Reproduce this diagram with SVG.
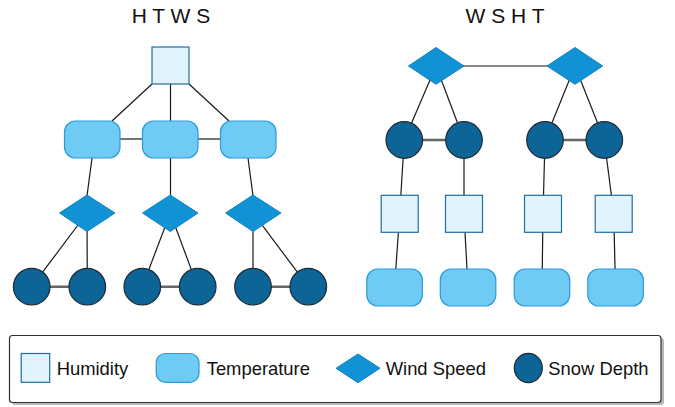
<svg xmlns="http://www.w3.org/2000/svg" width="675" height="407" viewBox="0 0 675 407">
  <style>
    .title { font-family: "Liberation Sans", Arial, sans-serif; font-size: 21px; fill: #111; text-anchor: middle; }
    .lbl { font-family: "Liberation Sans", Arial, sans-serif; font-size: 18.4px; fill: #111; }
    .hum { fill: #e1f3fc; stroke: #1f6f9f; stroke-width: 1.2; }
    .tmp { fill: #70cbf4; stroke: #2a9bd8; stroke-width: 1.2; }
    .wnd { fill: #1192d4; stroke: #1283c2; stroke-width: 1; }
    .snw { fill: #0d6496; stroke: #1c2a33; stroke-width: 1.2; }
    .e { stroke: #1a1a1a; stroke-width: 1.2; fill: none; }
    .ss { stroke: #666; stroke-width: 2.5; fill: none; }
  </style>

  <text class="title" x="171" y="23">H T W S</text>
  <text class="title" x="505" y="23">W S H T</text>

  <!-- connectors -->
  <g id="edges">
    <!-- left tree -->
    <line class="e" x1="152" y1="84" x2="112" y2="121"/>
    <line class="e" x1="170.5" y1="84" x2="170.5" y2="121"/>
    <line class="e" x1="189" y1="84" x2="229" y2="121"/>
    <line class="e" x1="120" y1="139" x2="142" y2="139"/>
    <line class="e" x1="198" y1="139" x2="220" y2="139"/>
    <line class="e" x1="92" y1="158" x2="87" y2="196"/>
    <line class="e" x1="170.5" y1="158" x2="170.5" y2="196"/>
    <line class="e" x1="248" y1="158" x2="253" y2="196"/>
    <line class="e" x1="87" y1="213" x2="31.7" y2="286.7"/>
    <line class="e" x1="87" y1="213" x2="87.3" y2="286.7"/>
    <line class="e" x1="170.3" y1="213" x2="142.3" y2="286.7"/>
    <line class="e" x1="170.3" y1="213" x2="197.7" y2="286.7"/>
    <line class="e" x1="253" y1="213" x2="253" y2="286.7"/>
    <line class="e" x1="253" y1="213" x2="308.3" y2="286.7"/>
    <line class="ss" x1="31.7" y1="286.7" x2="87.3" y2="286.7"/>
    <line class="ss" x1="142.3" y1="286.7" x2="197.7" y2="286.7"/>
    <line class="ss" x1="253" y1="286.7" x2="308.3" y2="286.7"/>
    <!-- right tree -->
    <line class="e" x1="436" y1="66" x2="575" y2="66"/>
    <line class="e" x1="436" y1="66" x2="404.3" y2="140"/>
    <line class="e" x1="436" y1="66" x2="464" y2="140"/>
    <line class="e" x1="575" y1="66" x2="545" y2="140"/>
    <line class="e" x1="575" y1="66" x2="604.3" y2="140"/>
    <line class="ss" x1="404.3" y1="140" x2="464" y2="140"/>
    <line class="ss" x1="545" y1="140" x2="604.3" y2="140"/>
    <line class="e" x1="404.3" y1="140" x2="399.7" y2="213.7"/>
    <line class="e" x1="464" y1="140" x2="464" y2="213.7"/>
    <line class="e" x1="545" y1="140" x2="543" y2="213.7"/>
    <line class="e" x1="604.3" y1="140" x2="613.7" y2="213.7"/>
    <line class="e" x1="399.7" y1="213.7" x2="394.5" y2="287.5"/>
    <line class="e" x1="464" y1="213.7" x2="468" y2="287.5"/>
    <line class="e" x1="543" y1="213.7" x2="542" y2="287.5"/>
    <line class="e" x1="613.7" y1="213.7" x2="615.5" y2="287.5"/>
  </g>

  <!-- left tree nodes -->
  <g id="h1"><rect class="hum" x="152" y="47" width="37" height="37"/></g>
  <g id="t1"><rect class="tmp" x="64.5" y="121" width="55.5" height="37" rx="11"/></g>
  <g id="t2"><rect class="tmp" x="142.5" y="121" width="55.5" height="37" rx="11"/></g>
  <g id="t3"><rect class="tmp" x="220.5" y="121" width="55.5" height="37" rx="11"/></g>
  <g id="w1"><polygon class="wnd" points="87,195 115,213 87,231.5 59.5,213"/></g>
  <g id="w2"><polygon class="wnd" points="170.3,195 198,213 170.3,231.5 142.5,213"/></g>
  <g id="w3"><polygon class="wnd" points="253,195 281,213 253,231.5 225.5,213"/></g>
  <g id="s1"><circle class="snw" cx="31.7" cy="286.7" r="18.3"/></g>
  <g id="s2"><circle class="snw" cx="87.3" cy="286.7" r="18.3"/></g>
  <g id="s3"><circle class="snw" cx="142.3" cy="286.7" r="18.3"/></g>
  <g id="s4"><circle class="snw" cx="197.7" cy="286.7" r="18.3"/></g>
  <g id="s5"><circle class="snw" cx="253" cy="286.7" r="18.3"/></g>
  <g id="s6"><circle class="snw" cx="308.3" cy="286.7" r="18.3"/></g>

  <!-- right tree nodes -->
  <g id="w4"><polygon class="wnd" points="436,47.5 464,66 436,84.3 408.5,66"/></g>
  <g id="w5"><polygon class="wnd" points="575,47.5 602.7,66 575,84.3 547,66"/></g>
  <g id="s7"><circle class="snw" cx="404.3" cy="140" r="18.3"/></g>
  <g id="s8"><circle class="snw" cx="464" cy="140" r="18.3"/></g>
  <g id="s9"><circle class="snw" cx="545" cy="140" r="18.3"/></g>
  <g id="s10"><circle class="snw" cx="604.3" cy="140" r="18.3"/></g>
  <g id="h2"><rect class="hum" x="381.2" y="195.3" width="37" height="37"/></g>
  <g id="h3"><rect class="hum" x="445.5" y="195.3" width="37" height="37"/></g>
  <g id="h4"><rect class="hum" x="524.5" y="195.3" width="37" height="37"/></g>
  <g id="h5"><rect class="hum" x="595.2" y="195.3" width="37" height="37"/></g>
  <g id="t4"><rect class="tmp" x="366.8" y="269" width="55.5" height="37" rx="11"/></g>
  <g id="t5"><rect class="tmp" x="440.3" y="269" width="55.5" height="37" rx="11"/></g>
  <g id="t6"><rect class="tmp" x="514.2" y="269" width="55.5" height="37" rx="11"/></g>
  <g id="t7"><rect class="tmp" x="587.8" y="269" width="55.5" height="37" rx="11"/></g>

  <!-- legend -->
  <g id="legend">
    <rect x="12" y="338" width="652" height="67" rx="3" fill="#999" opacity="0.7"/>
    <rect x="9.5" y="335.5" width="651.5" height="67" rx="3" fill="#fff" stroke="#333" stroke-width="1.2"/>
    <rect class="hum" x="21.2" y="353.5" width="28.5" height="28.8"/>
    <text class="lbl" x="56.7" y="375">Humidity</text>
    <rect class="tmp" x="156.2" y="353.5" width="42.8" height="28.8" rx="9"/>
    <text class="lbl" x="206.7" y="375">Temperature</text>
    <polygon class="wnd" points="358,354 380,368.3 358,382.7 336,368.3"/>
    <text class="lbl" x="385.7" y="375">Wind Speed</text>
    <ellipse class="snw" cx="528.3" cy="368" rx="14" ry="14.6"/>
    <text class="lbl" x="548.3" y="375">Snow Depth</text>
  </g>
</svg>
